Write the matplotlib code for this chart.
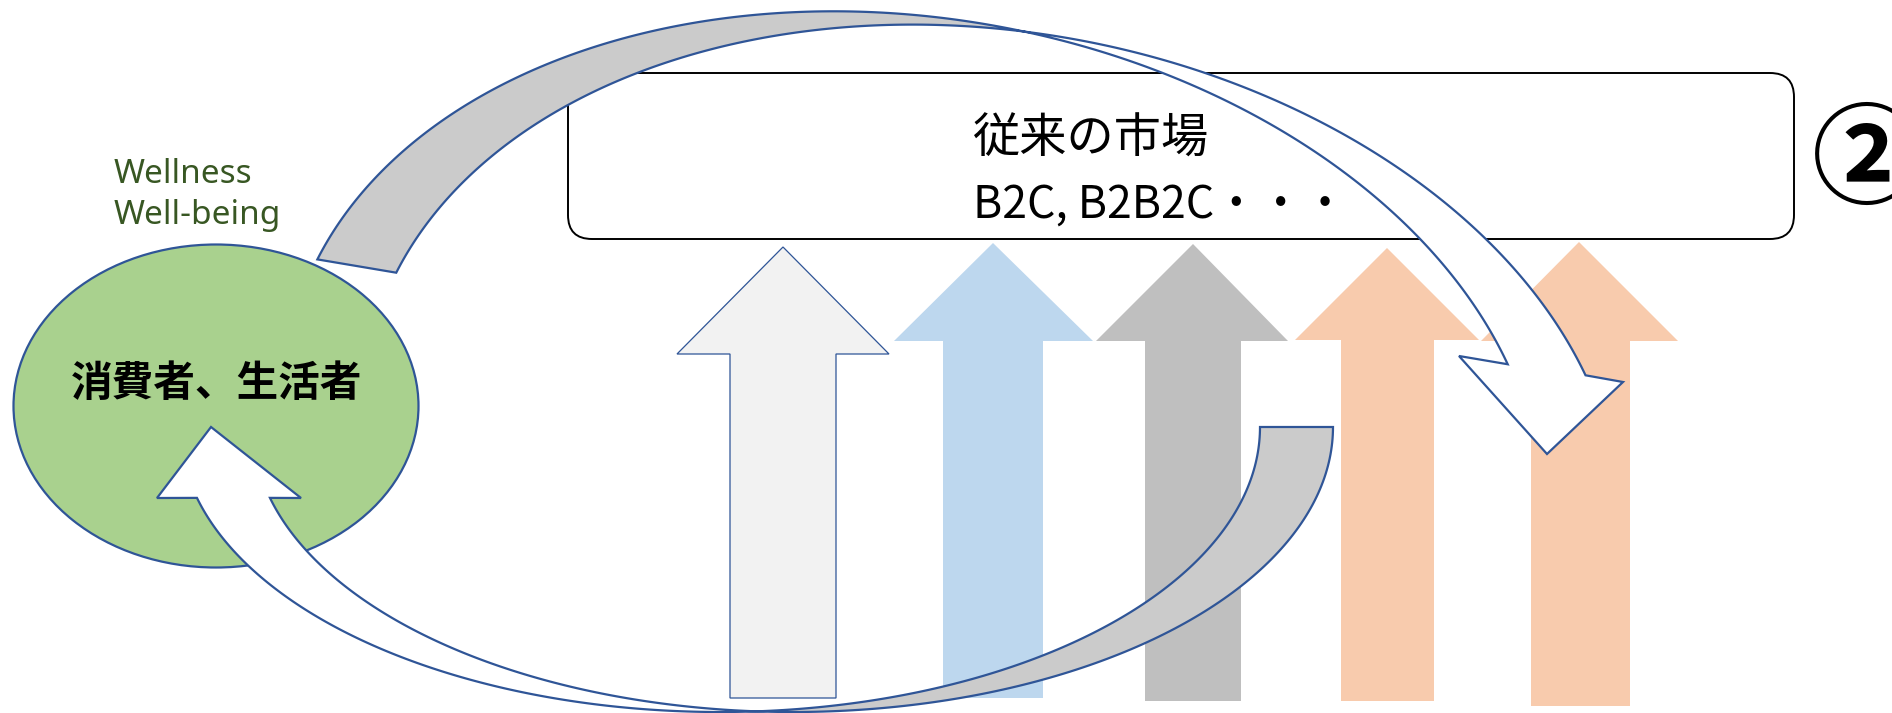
import numpy as np
import matplotlib
matplotlib.use("Agg")
import matplotlib.pyplot as plt
from matplotlib.patches import Polygon, Ellipse, FancyBboxPatch

# texts
consumer_label = "消費者、生活者"
wellness_lines = ["Wellness", "Well-being"]
market_title = "従来の市場"
market_sub = "B2C, B2B2C・・・"
badge = "②"

# five upward block arrows under the market box (pixel coords)
up_tip_x = [783, 993, 1193, 1387, 1579]
up_tip_y = [247, 243, 244, 248, 242]
up_head_y = [354, 341, 341, 340, 341]
up_head_l = [677, 894, 1096, 1295, 1481]
up_head_r = [889, 1093, 1288, 1479, 1678]
up_shaft_l = [730, 943, 1145, 1341, 1531]
up_shaft_r = [836, 1043, 1241, 1434, 1630]
up_bottom = [698, 698, 701, 701, 706]
up_colors = ["#F2F2F2", "#BDD7EE", "#BFBFBF", "#F8CBAD", "#F8CBAD"]

EDGE = "#2F5597"
RIBBON = "#CBCBCB"


def arc(cx, cy, a, b, t0, t1, rot=0.0, n=120):
    # elliptical arc (angles in degrees, y axis pointing down), optionally rotated
    t = np.radians(np.linspace(t0, t1, n))
    u = cx + a * np.cos(t)
    v = cy + b * np.sin(t)
    r = np.radians(rot)
    return np.column_stack([u * np.cos(r) - v * np.sin(r), u * np.sin(r) + v * np.cos(r)])


def ribbon_arrow(ax, back1, back2, front1, front2, head):
    # back face (grey) and front face (white) of a twisted curved arrow
    back = np.vstack([back1, back2[::-1]])
    front = np.vstack([front1, np.array(head), front2[::-1]])
    ax.add_patch(Polygon(back, closed=True, fc=RIBBON, ec=EDGE, lw=1.6, zorder=5))
    ax.add_patch(Polygon(front, closed=True, fc="white", ec=EDGE, lw=1.6, zorder=5))


fig = plt.figure(figsize=(18.92, 7.13), dpi=100)
ax = fig.add_axes([0, 0, 1, 1])
ax.set_xlim(0, 1892)
ax.set_ylim(713, 0)
ax.axis("off")

# market box
ax.add_patch(FancyBboxPatch((568, 73), 1226, 166, boxstyle="round,pad=0,rounding_size=24",
                            fc="white", ec="black", lw=1.4, zorder=2))
ax.text(973, 139, market_title, fontsize=34, family=["Noto Sans CJK JP", "DejaVu Sans"],
        ha="left", va="center", zorder=3)
ax.text(973, 218, market_sub, fontsize=32, family=["Noto Sans CJK JP", "DejaVu Sans"],
        ha="left", va="baseline", zorder=3)

# up arrows
for i in range(len(up_tip_x)):
    pts = [(up_shaft_l[i], up_bottom[i]), (up_shaft_l[i], up_head_y[i]),
           (up_head_l[i], up_head_y[i]), (up_tip_x[i], up_tip_y[i]),
           (up_head_r[i], up_head_y[i]), (up_shaft_r[i], up_head_y[i]),
           (up_shaft_r[i], up_bottom[i])]
    if i == 0:
        ax.add_patch(Polygon(pts, closed=True, fc=up_colors[i], ec=EDGE, lw=0.9, zorder=3))
    else:
        ax.add_patch(Polygon(pts, closed=True, fc=up_colors[i], ec="none", zorder=3))

# consumer ellipse
ax.add_patch(Ellipse((216, 406), 405, 323, fc="#A9D18E", ec=EDGE, lw=1.6, zorder=4))
ax.text(217, 384, consumer_label, fontsize=30, fontweight="bold",
        family=["Noto Sans CJK JP", "DejaVu Sans"], ha="center", va="center", zorder=7)

ax.text(114, 183, wellness_lines[0], fontsize=24, color="#385723", family="Noto Sans",
        ha="left", va="baseline")
ax.text(114, 224, wellness_lines[1], fontsize=24, color="#385723", family="Noto Sans",
        ha="left", va="baseline")

# top curved arrow: consumers -> over the market box -> down (tilted ~9.6 deg)
rot = 9.57
ribbon_arrow(ax,
             arc(975, 294, 633, 434, 192.1, 273.6, rot),
             arc(1055, 294, 633, 434, 192.1, 266.4, rot),
             arc(975, 294, 633, 434, 273.6, 334.7, rot),
             arc(1055, 294, 633, 434, 266.4, 334.4, rot),
             [(1459, 356), (1547, 454), (1623, 382)])

# bottom curved arrow: from the market back up into the consumer ellipse
ribbon_arrow(ax,
             arc(720, 427, 540, 285, 0, 86.1),
             arc(793, 427, 540, 285, 0, 93.9),
             arc(720, 427, 540, 285, 86.1, 165.6),
             arc(793, 427, 540, 285, 93.9, 165.6),
             [(157, 498), (211, 427), (301, 498)])

ax.text(1812, 163, badge, fontsize=79, fontweight="bold",
        family=["Noto Sans CJK JP", "DejaVu Sans"], ha="left", va="center")

fig.savefig("out.png", dpi=100)
